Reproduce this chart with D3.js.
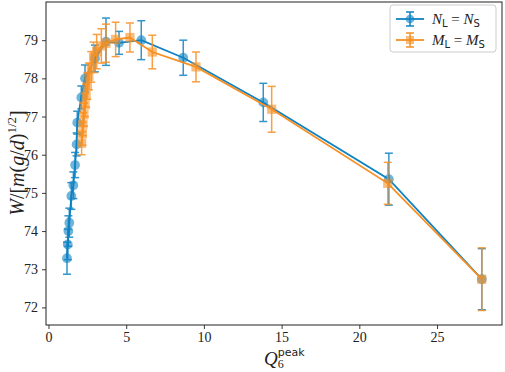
<!DOCTYPE html>
<html>
<head>
<meta charset="utf-8">
<script src="https://cdn.jsdelivr.net/npm/d3@7"></script>
<style>
  body { margin: 0; background: #fff; }
  svg text { font-family: "Liberation Serif", "DejaVu Serif", serif; }
</style>
</head>
<body>
<div id="main"></div>
<script>
// N_L = N_S series (circles)
var blueX = [1.19, 1.24, 1.28, 1.34, 1.47, 1.6, 1.71, 1.81, 1.85, 2.11, 2.35, 2.99, 3.7, 4.54, 5.97, 8.67, 13.82, 21.9, 27.88];
var blueY = [73.29, 73.65, 74.0, 74.22, 74.92, 75.2, 75.73, 76.27, 76.84, 77.5, 78.0, 78.52, 78.96, 78.93, 79.0, 78.54, 77.37, 75.36, 72.74];
var blueErr = [0.42, 0.4, 0.4, 0.38, 0.35, 0.35, 0.33, 0.3, 0.3, 0.3, 0.35, 0.35, 0.62, 0.3, 0.51, 0.46, 0.5, 0.68, 0.8];
// M_L = M_S series (squares)
var orangeX = [2.13, 2.18, 2.22, 2.28, 2.35, 2.42, 2.5, 2.6, 2.75, 2.9, 3.1, 3.4, 3.7, 4.32, 5.24, 6.68, 9.49, 14.36, 21.83, 27.88];
var orangeY = [76.3, 76.55, 76.8, 77.05, 77.3, 77.55, 77.8, 78.05, 78.3, 78.55, 78.7, 78.85, 78.92, 79.02, 79.07, 78.69, 78.3, 77.19, 75.25, 72.74];
var orangeErr = [0.3, 0.3, 0.3, 0.3, 0.3, 0.3, 0.35, 0.35, 0.4, 0.4, 0.45, 0.45, 0.5, 0.45, 0.38, 0.44, 0.39, 0.6, 0.55, 0.82];
var xTicks = [0, 5, 10, 15, 20, 25];
var yTicks = [72, 73, 74, 75, 76, 77, 78, 79];

var SERIF = "'Liberation Serif', 'DejaVu Serif', serif";
var ctx = {
    w: 505,
    h: 372,
    left: 46,
    right: 502,
    top: 2,
    bottom: 325,
    BLUE: "#0f82c2",
    ORANGE: "#f78f22",
};

var makeSeries = function(xs, ys, es){
    return xs.map(function(x, i){ return {x: x, y: ys[i], e: es[i]}; });
};

var initSVGcanvas = function(svg){
    ctx.xScale = d3.scaleLinear().domain([-0.16, 29.18]).range([ctx.left, ctx.right]);
    ctx.yScale = d3.scaleLinear().domain([71.54, 80.0]).range([ctx.bottom, ctx.top]);
    var bkg = svg.append("g").attr("id", "bkgG");
    // x axis
    var xAx = bkg.append("g")
        .attr("transform", "translate(0," + ctx.bottom + ")")
        .call(d3.axisBottom(ctx.xScale).tickValues(xTicks).tickSize(4).tickPadding(3));
    // y axis
    var yAx = bkg.append("g")
        .attr("transform", "translate(" + ctx.left + ",0)")
        .call(d3.axisLeft(ctx.yScale).tickValues(yTicks).tickSize(4).tickPadding(4));
    [xAx, yAx].forEach(function(a){
        a.attr("font-family", null);
        a.select(".domain").remove();
        a.selectAll("line").style("stroke", "#222").style("stroke-width", 0.9);
        a.selectAll("text").style("font-family", SERIF)
            .style("font-size", "14px").style("fill", "#222");
    });
    // frame
    bkg.append("rect")
        .attr("x", ctx.left).attr("y", ctx.top)
        .attr("width", ctx.right - ctx.left).attr("height", ctx.bottom - ctx.top)
        .style("fill", "none").style("stroke", "#222").style("stroke-width", 1);
    // x-axis label: Q_6 with "peak" superscript
    var xl = bkg.append("text")
        .attr("x", 264).attr("y", 365)
        .style("font-family", SERIF)
        .style("font-size", "19px").style("fill", "#222");
    xl.append("tspan").style("font-style", "italic").text("Q");
    xl.append("tspan").attr("dy", 3).style("font-size", "12px").text("6");
    xl.append("tspan").attr("dx", -6).attr("dy", -12)
        .style("font-size", "11px").style("font-family", "'DejaVu Sans', sans-serif").text("peak");
    // y-axis label
    var yl = bkg.append("text")
        .attr("transform", "translate(24,163) rotate(-90)")
        .style("text-anchor", "middle")
        .style("font-family", SERIF)
        .style("font-size", "20px").style("fill", "#222");
    yl.append("tspan").style("font-style", "italic").text("W");
    yl.append("tspan").text("/[");
    yl.append("tspan").style("font-style", "italic").text("m");
    yl.append("tspan").text("(");
    yl.append("tspan").style("font-style", "italic").text("g");
    yl.append("tspan").text("/");
    yl.append("tspan").style("font-style", "italic").text("d");
    yl.append("tspan").text(")");
    yl.append("tspan").attr("dy", -8).style("font-size", "13px").text("1/2");
    yl.append("tspan").attr("dy", 8).text("]");
};

var drawSeries = function(g, data, color, shape){
    var line = d3.line()
        .x(function(d){ return ctx.xScale(d.x); })
        .y(function(d){ return ctx.yScale(d.y); });
    // error bars
    var eb = g.append("g").style("stroke", color).style("stroke-width", 1.5).style("opacity", 0.85);
    data.forEach(function(d){
        var x = ctx.xScale(d.x), y1 = ctx.yScale(d.y - d.e), y2 = ctx.yScale(d.y + d.e);
        eb.append("line").attr("x1", x).attr("x2", x).attr("y1", y1).attr("y2", y2);
        eb.append("line").attr("x1", x - 4).attr("x2", x + 4).attr("y1", y1).attr("y2", y1);
        eb.append("line").attr("x1", x - 4).attr("x2", x + 4).attr("y1", y2).attr("y2", y2);
    });
    g.append("path").datum(data).attr("d", line)
        .style("fill", "none").style("stroke", color).style("stroke-width", 1.8);
    var sym = d3.symbol().type(shape === "circle" ? d3.symbolCircle : d3.symbolSquare)
        .size(shape === "circle" ? 75 : 85);
    g.selectAll("path.mk").data(data).enter().append("path")
        .attr("class", "mk")
        .attr("transform", function(d){ return "translate(" + ctx.xScale(d.x) + "," + ctx.yScale(d.y) + ")"; })
        .attr("d", sym)
        .style("fill", color).style("opacity", 0.6);
};

var drawLegend = function(svg){
    var lg = svg.append("g").attr("id", "legendG");
    lg.append("rect").attr("x", 390).attr("y", 5).attr("width", 106).attr("height", 47)
        .attr("rx", 3)
        .style("fill", "#fff").style("fill-opacity", 0.8)
        .style("stroke", "#ccc").style("stroke-width", 1);
    var items = [
        {color: ctx.BLUE, shape: d3.symbolCircle, sz: 60, sym: "N", y: 19},
        {color: ctx.ORANGE, shape: d3.symbolSquare, sz: 64, sym: "M", y: 40}
    ];
    items.forEach(function(it){
        var cx = 410;
        lg.append("line").attr("x1", 396).attr("x2", 424).attr("y1", it.y).attr("y2", it.y)
            .style("stroke", it.color).style("stroke-width", 1.8);
        lg.append("line").attr("x1", cx).attr("x2", cx).attr("y1", it.y - 7).attr("y2", it.y + 7)
            .style("stroke", it.color).style("stroke-width", 1.5);
        [-7, 7].forEach(function(o){
            lg.append("line").attr("x1", cx - 4).attr("x2", cx + 4).attr("y1", it.y + o).attr("y2", it.y + o)
                .style("stroke", it.color).style("stroke-width", 1.5);
        });
        lg.append("path").attr("transform", "translate(" + cx + "," + it.y + ")")
            .attr("d", d3.symbol().type(it.shape).size(it.sz))
            .style("fill", it.color).style("opacity", 0.6);
        var t = lg.append("text").attr("x", 432).attr("y", it.y + 5)
            .style("font-family", SERIF)
            .style("font-size", "15px").style("fill", "#222");
        t.append("tspan").style("font-style", "italic").text(it.sym);
        t.append("tspan").attr("dy", 3).style("font-size", "10px")
            .style("font-family", "'DejaVu Sans', sans-serif").text("L");
        t.append("tspan").attr("dy", -3).text(" = ");
        t.append("tspan").style("font-style", "italic").text(it.sym);
        t.append("tspan").attr("dy", 3).style("font-size", "10px")
            .style("font-family", "'DejaVu Sans', sans-serif").text("S");
    });
};

var createViz = function(){
    var svgEl = d3.select("#main").append("svg")
        .attr("width", ctx.w).attr("height", ctx.h);
    initSVGcanvas(svgEl);
    var dataG = svgEl.append("g").attr("id", "dataG");
    drawSeries(dataG.append("g"), makeSeries(blueX, blueY, blueErr), ctx.BLUE, "circle");
    drawSeries(dataG.append("g"), makeSeries(orangeX, orangeY, orangeErr), ctx.ORANGE, "square");
    drawLegend(svgEl);
};

createViz();
</script>
</body>
</html>
